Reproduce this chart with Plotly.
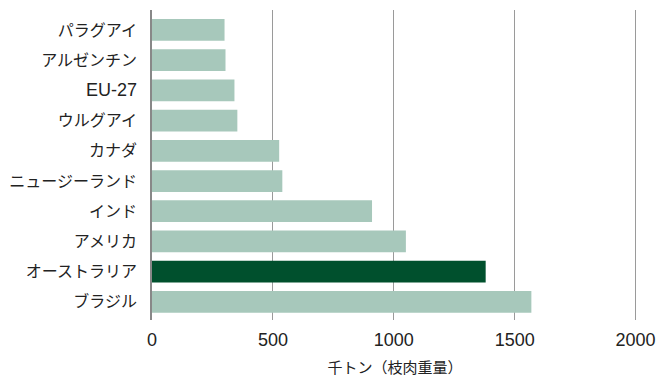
import plotly.graph_objects as go

categories = ["パラグアイ", "アルゼンチン", "EU-27", "ウルグアイ", "カナダ",
              "ニュージーランド", "インド", "アメリカ", "オーストラリア", "ブラジル"]
values = [300, 304, 341, 353, 526, 539, 910, 1050, 1380, 1569]
highlight = "オーストラリア"
x_ticks = [0, 500, 1000, 1500, 2000]
x_title = "千トン（枝肉重量）"

colors = ["#00502d" if c == highlight else "#a7c8bb" for c in categories]

# Latin labels render a little larger in the reference
tick_text = [f'<span style="font-size:18px">{c}</span>' if c.isascii() else c
             for c in categories]

font_family = "Liberation Sans, Noto Sans CJK JP, sans-serif"

fig = go.Figure(go.Bar(
    x=values, y=categories, orientation="h",
    marker=dict(color=colors, line=dict(width=0)),
    width=0.72,
))

fig.update_layout(
    width=662, height=376,
    margin=dict(l=152, r=24, t=10, b=56),
    paper_bgcolor="white", plot_bgcolor="white",
    showlegend=False,
    font=dict(family=font_family, color="#222222"),
)
fig.update_xaxes(
    range=[0, 2010], tickvals=x_ticks, ticktext=[str(t) for t in x_ticks],
    showgrid=True, gridcolor="#9a9a9a", gridwidth=1,
    zeroline=False, showline=False, automargin=False,
    tickfont=dict(size=18, color="#222222"),
    ticks="", ticklabelstandoff=7,
    title=dict(text=x_title, font=dict(size=15, color="#222222"), standoff=14),
)
fig.update_yaxes(
    categoryorder="array", categoryarray=categories,
    range=[9.6, -0.66], automargin=False,
    tickvals=categories, ticktext=tick_text,
    showgrid=False, zeroline=False,
    showline=True, linecolor="#888888", linewidth=1.5,
    tickfont=dict(size=16, color="#222222"),
    ticks="", ticklabelstandoff=10,
)

fig.write_html("out.html")
